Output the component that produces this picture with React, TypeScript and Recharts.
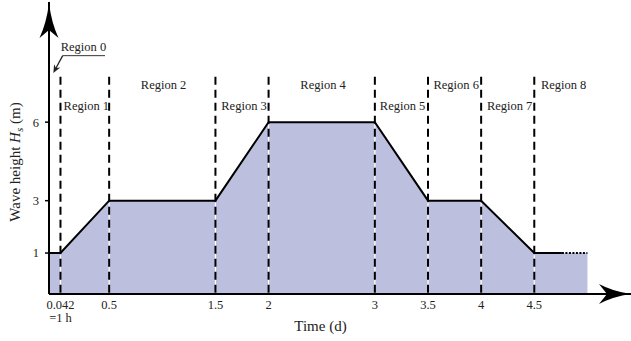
import React from 'react';
import { ComposedChart, Area, Line, XAxis, YAxis, ReferenceLine, ReferenceDot, Label } from 'recharts';

// ---- data ----
const TIMES = [-0.066, 0.042, 0.5, 1.5, 2, 3, 3.5, 4, 4.5, 4.76, 5.0];
const HEIGHTS = [1, 1, 3, 3, 6, 6, 3, 3, 1, 1, 1];
const SOLID_END_INDEX = 9; // solid line up to t=4.76, dotted afterwards

const BOUNDARIES = [0.042, 0.5, 1.5, 2, 3, 3.5, 4, 4.5];
const BOUNDARY_HEIGHTS = [1, 3, 3, 6, 6, 3, 3, 1];

const X_TICKS = [0.042, 0.5, 1.5, 2, 3, 3.5, 4, 4.5];
const X_TICK_LABELS = ['0.042', '0.5', '1.5', '2', '3', '3.5', '4', '4.5'];
const X_TICK_SUBLABELS = ['=1 h', '', '', '', '', '', '', ''];
const Y_TICKS = [1, 3, 6];

const REGION_NAMES = ['Region 0', 'Region 1', 'Region 2', 'Region 3', 'Region 4', 'Region 5', 'Region 6', 'Region 7', 'Region 8'];
const REGION_X = [0.044, 0.285, 1.012, 1.769, 2.513, 3.261, 3.765, 4.268, 4.776];
const REGION_Y = [8.87, 6.62, 7.42, 6.62, 7.42, 6.62, 7.42, 6.62, 7.42];

// ---- layout constants ----
const X_DOMAIN: [number, number] = [-0.066, 5.41];
const Y_DOMAIN: [number, number] = [-0.565, 10.59];
const DASH_TOP = 7.73;
const R0_LINE_Y = 8.54;
const R0_LINE_X: [number, number] = [0.063, 0.461];
const R0_TIP = { x: -0.025, y: 7.88 };

const FONT = '"Liberation Serif", "Times New Roman", serif';
const TEXT = '#222';
const FILL = '#bdbfde';

const data = TIMES.map((t, i) => ({
  t,
  fill: HEIGHTS[i],
  solid: i <= SOLID_END_INDEX ? HEIGHTS[i] : null,
  dotted: i >= SOLID_END_INDEX ? HEIGHTS[i] : null,
}));

const XTick = (props: any) => {
  const { x, y, payload } = props;
  const idx = X_TICKS.indexOf(payload.value);
  const main = idx >= 0 ? X_TICK_LABELS[idx] : String(payload.value);
  const sub = idx >= 0 ? X_TICK_SUBLABELS[idx] : '';
  return (
    <g>
      <text x={x} y={y} dy="0.71em" textAnchor="middle" fontFamily={FONT} fontSize={12.5} fill={TEXT}>
        {main}
      </text>
      {sub ? (
        <text x={x} y={y + 13} dy="0.71em" textAnchor="middle" fontFamily={FONT} fontSize={12.5} fill={TEXT}>
          {sub}
        </text>
      ) : null}
    </g>
  );
};

const UpArrow = (props: any) => {
  const { cx, cy } = props;
  const t = cy + 1;
  const d = `M ${cx} ${t} Q ${cx + 2.5} ${t + 20} ${cx + 9.5} ${t + 35} L ${cx} ${t + 27} L ${cx - 9.5} ${t + 35} Q ${cx - 2.5} ${t + 20} ${cx} ${t} Z`;
  return <path d={d} fill="#000" stroke="none" />;
};

const RightArrow = (props: any) => {
  const { cx, cy } = props;
  const d = `M ${cx} ${cy} Q ${cx - 18} ${cy + 2.5} ${cx - 32} ${cy + 10} L ${cx - 24} ${cy} L ${cx - 32} ${cy - 10} Q ${cx - 18} ${cy - 2.5} ${cx} ${cy} Z`;
  return <path d={d} fill="#000" stroke="none" />;
};

const ArrowSegment = (props: any) => {
  const { x1, y1, x2, y2 } = props;
  const ang = Math.atan2(y2 - y1, x2 - x1);
  const len = 8;
  const hw = 3.5;
  const bx = x2 - len * Math.cos(ang);
  const by = y2 - len * Math.sin(ang);
  const px = -Math.sin(ang) * hw;
  const py = Math.cos(ang) * hw;
  const nx = x2 - (len * 0.7) * Math.cos(ang);
  const ny = y2 - (len * 0.7) * Math.sin(ang);
  return (
    <g>
      <line x1={x1} y1={y1} x2={nx} y2={ny} stroke="#222" strokeWidth={1.3} />
      <path d={`M ${x2} ${y2} L ${bx + px} ${by + py} L ${nx} ${ny} L ${bx - px} ${by - py} Z`} fill="#222" />
    </g>
  );
};

const RegionText = (i: number) => (props: any) => {
  const { cx, cy } = props;
  return (
    <text x={cx} y={cy} dy="0.35em" textAnchor={i === 0 ? 'start' : 'middle'} fontFamily={FONT} fontSize={12.5} fill={TEXT}>
      {REGION_NAMES[i]}
    </text>
  );
};

const YLabel = (props: any) => {
  const { viewBox } = props;
  const x = viewBox.x + 15;
  const y = viewBox.y + 160;
  return (
    <text x={x} y={y} transform={`rotate(-90, ${x}, ${y})`} textAnchor="middle" dy="0.35em" fontFamily={FONT} fontSize={15} fill={TEXT}>
      Wave height <tspan fontStyle="italic">H</tspan>
      <tspan fontStyle="italic" fontSize={11} dy={3}>s</tspan>
      <tspan dy={-3}> (m)</tspan>
    </text>
  );
};

const XLabel = (props: any) => {
  const { viewBox } = props;
  return (
    <text x={viewBox.x + 271.5} y={viewBox.y + 37} textAnchor="middle" fontFamily={FONT} fontSize={15} fill={TEXT}>
      Time (d)
    </text>
  );
};

export default function App() {
  return (
    <div style={{ position: 'absolute', left: 0, top: 0, width: 631, height: 341, background: '#fff' }}>
      <ComposedChart width={631} height={341} data={data} margin={{ top: 2, right: 0, bottom: 0, left: 0 }}>
        <XAxis
          type="number"
          dataKey="t"
          domain={X_DOMAIN}
          allowDataOverflow
          ticks={X_TICKS}
          tick={<XTick />}
          tickLine={false}
          tickSize={4}
          tickMargin={2}
          height={47}
          axisLine={{ stroke: '#000', strokeWidth: 2 }}
        >
          <Label content={<XLabel />} />
        </XAxis>
        <YAxis
          type="number"
          domain={Y_DOMAIN}
          allowDataOverflow
          ticks={Y_TICKS}
          width={49}
          tickSize={4}
          tickMargin={6}
          tickLine={{ stroke: '#000', strokeWidth: 1.5 }}
          axisLine={{ stroke: '#000', strokeWidth: 2 }}
          tick={{ fontFamily: FONT, fontSize: 12.5, fill: TEXT }}
        >
          <Label content={<YLabel />} />
        </YAxis>
        <Area
          dataKey="fill"
          type="linear"
          baseValue="dataMin"
          stroke="none"
          fill={FILL}
          fillOpacity={1}
          isAnimationActive={false}
          dot={false}
          activeDot={false}
        />
        {BOUNDARIES.map((b, i) => (
          <ReferenceLine
            key={`w${i}`}
            segment={[{ x: b, y: BOUNDARY_HEIGHTS[i] - 0.08 }, { x: b, y: Y_DOMAIN[0] }]}
            stroke="#fff"
            strokeWidth={1.2}
            ifOverflow="visible"
          />
        ))}
        {BOUNDARIES.map((b, i) => (
          <ReferenceLine
            key={`d${i}`}
            segment={[{ x: b, y: DASH_TOP }, { x: b, y: Y_DOMAIN[0] }]}
            stroke="#000"
            strokeWidth={2}
            strokeDasharray="8 5"
            ifOverflow="visible"
          />
        ))}
        <Line
          dataKey="solid"
          type="linear"
          stroke="#000"
          strokeWidth={2}
          dot={false}
          activeDot={false}
          connectNulls={false}
          isAnimationActive={false}
        />
        <Line
          dataKey="dotted"
          type="linear"
          stroke="#000"
          strokeWidth={2}
          strokeDasharray="2 1.5"
          dot={false}
          activeDot={false}
          connectNulls={false}
          isAnimationActive={false}
        />
        <ReferenceLine
          segment={[{ x: R0_LINE_X[0], y: R0_LINE_Y }, { x: R0_LINE_X[1], y: R0_LINE_Y }]}
          stroke="#333"
          strokeWidth={1}
          ifOverflow="visible"
        />
        <ReferenceLine
          segment={[{ x: R0_LINE_X[0], y: R0_LINE_Y }, R0_TIP]}
          ifOverflow="visible"
          shape={<ArrowSegment />}
        />
        {REGION_NAMES.map((n, i) => (
          <ReferenceDot key={n} x={REGION_X[i]} y={REGION_Y[i]} r={0} ifOverflow="visible" shape={RegionText(i)} />
        ))}
        <ReferenceDot x={X_DOMAIN[0]} y={Y_DOMAIN[1]} r={0} ifOverflow="visible" shape={<UpArrow />} />
        <ReferenceDot x={X_DOMAIN[1]} y={Y_DOMAIN[0]} r={0} ifOverflow="visible" shape={<RightArrow />} />
      </ComposedChart>
    </div>
  );
}
